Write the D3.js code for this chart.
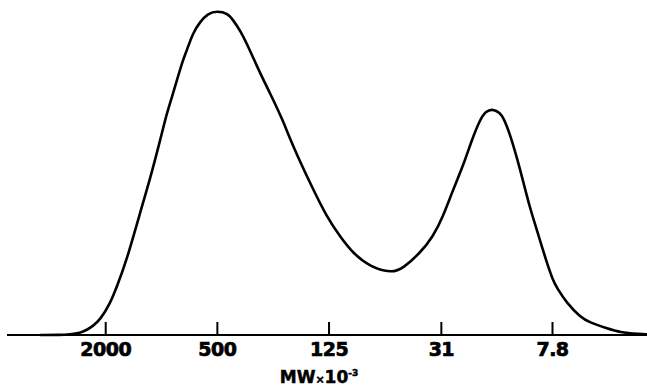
<!DOCTYPE html>
<html lang="en">
<head>
  <meta charset="UTF-8">
  <title>MW distribution</title>
  <script src="https://d3js.org/d3.v7.min.js"></script>
  <style>
    body { margin: 0; background: #fff; }
    .curve { fill: none; stroke: #000; stroke-width: 2.6; stroke-linejoin: round; }
    .axis text { font-family: "DejaVu Sans", sans-serif; font-weight: bold; font-size: 19px; fill: #000;
                 stroke: #000; stroke-width: 0.7; letter-spacing: -0.5px; }
    .axis line, .axis path { stroke: #000; stroke-width: 2; }
    .title { font-family: "DejaVu Sans", sans-serif; font-weight: bold; fill: #000; stroke: #000; stroke-width: 0.5; }
  </style>
</head>
<body>
  <svg width="647" height="387"></svg>

  <script>
    // tick labels on the MW axis (x 10^-3)
    let tickValues = [2000, 500, 125, 31, 7.8];

    // trace: molecular weight (x 10^-3)
    let mw = [4500, 3500, 3100, 2730, 2510, 2330, 2130, 1880, 1730, 1530,
              1300, 1150, 1010, 929, 873, 820, 762, 725, 673, 617,
              558, 499, 436, 409, 375, 332, 293, 259, 223, 194,
              157, 128, 108, 92.3, 74.8, 56.9, 49.6, 40.2, 34.2, 30.2,
              26.7, 23.6, 21.1, 19.1, 17.7, 16.2, 14.9, 14.2, 13.2, 12.1,
              11.2, 10.3, 9.41, 8.31, 7.72, 7.34, 6.48, 5.52, 4.87, 3.95,
              3.36, 2.62, 2.40];
    // relative signal (peak = 100)
    let signal = [0, 0, 0.2, 0.6, 1.6, 2.8, 4.7, 9.8, 15.0, 23.3,
                  37.8, 48.1, 60.6, 69.0, 73.9, 79.2, 85.4, 88.5, 93.8, 97.2,
                  99.9, 100.6, 99.9, 97.8, 94.7, 88.5, 81.4, 75.2, 67.4, 58.5,
                  47.1, 36.7, 30.5, 25.4, 21.2, 19.2, 20.7, 25.4, 30.5, 36.7,
                  45.0, 52.3, 60.6, 66.8, 69.6, 70.2, 69.0, 67.3, 62.7, 55.4,
                  48.1, 39.8, 32.6, 22.3, 17.1, 14.6, 9.9, 5.7, 3.8, 2.1,
                  0.8, 0.3, 0.2];

    let svg = d3.select("svg");
    let baseY = 335;

    // high MW on the left
    let x = d3.scaleLog()
      .domain([2000, 7.8])
      .range([105.2, 552]);

    let y = d3.scaleLinear()
      .domain([0, 100])
      .range([baseY, 13]);

    let points = mw.map((m, i) => [m, signal[i]]);

    let line = d3.line()
      .x(d => x(d[0]))
      .y(d => y(d[1]))
      .curve(d3.curveBasis);

    svg.append("path")
      .datum(points)
      .attr("class", "curve")
      .attr("d", line);

    // axis, ticks pointing up into the plot
    let axis = d3.axisBottom(x)
      .tickValues(tickValues)
      .tickFormat(d => d)
      .tickSizeInner(-13)
      .tickSizeOuter(0)
      .tickPadding(7);

    let gx = svg.append("g")
      .attr("class", "axis")
      .attr("transform", "translate(0," + baseY + ")")
      .call(axis);

    // base line runs across the whole picture
    gx.select(".domain").attr("d", "M7,0H647");
    gx.selectAll(".tick text").attr("dy", "0.72em");

    // MW x 10^-3
    let title = svg.append("text")
      .attr("class", "title")
      .attr("x", 319)
      .attr("y", 383)
      .attr("text-anchor", "middle");
    title.append("tspan").style("font-size", "17px").text("MW");
    title.append("tspan").style("font-size", "11px").text("\u00d7");
    title.append("tspan").style("font-size", "17px").text("10");
    title.append("tspan").style("font-size", "9px").attr("dy", -7).text("-3");
  </script>
</body>
</html>
